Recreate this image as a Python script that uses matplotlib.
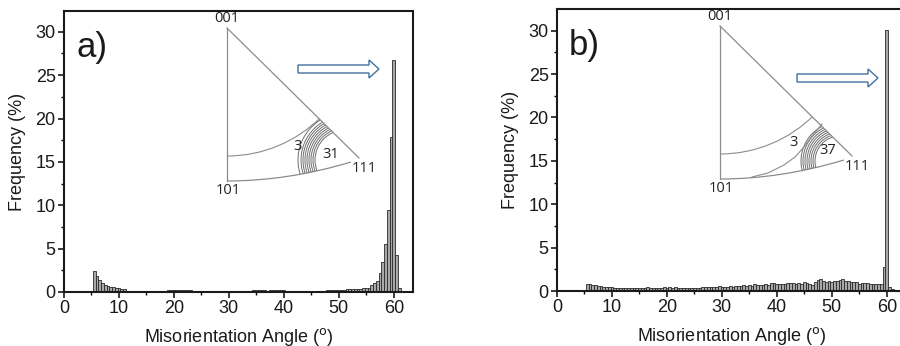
import numpy as np
import matplotlib.pyplot as plt
from matplotlib.patches import Circle, FancyArrow, PathPatch
from matplotlib.path import Path

plt.rcParams['font.family'] = ['Liberation Sans', 'DejaVu Sans']

# bin centres (0.5 deg bins)
angles_a = np.arange(5.5, 61.75, 0.5)
angles_b = np.arange(5.5, 62.25, 0.5)

# a) frequency (%)
freq_a = [2.4, 1.8, 1.35, 1.0, 0.85, 0.7, 0.6, 0.55, 0.5, 0.45,
          0.4, 0.3, 0.15, 0.1, 0.08, 0.06, 0.05, 0.05, 0.05, 0.05,
          0.05, 0.08, 0.1, 0.1, 0.12, 0.15, 0.12, 0.18, 0.25, 0.2,
          0.18, 0.2, 0.22, 0.2, 0.25, 0.18, 0.15, 0.12, 0.15, 0.12,
          0.1, 0.12, 0.1, 0.12, 0.1, 0.1, 0.1, 0.05, 0.03, 0.03,
          0.03, 0.05, 0.05, 0.05, 0.08, 0.1, 0.12, 0.15, 0.18, 0.2,
          0.18, 0.2, 0.18, 0.15, 0.18, 0.2, 0.18, 0.2, 0.2, 0.18,
          0.15, 0.15, 0.15, 0.12, 0.12, 0.15, 0.12, 0.12, 0.15, 0.12,
          0.1, 0.1, 0.12, 0.12, 0.15, 0.2, 0.22, 0.25, 0.25, 0.25,
          0.22, 0.25, 0.3, 0.3, 0.35, 0.35, 0.4, 0.4, 0.45, 0.5,
          0.5, 0.75, 1.0, 1.3, 2.2, 3.5, 5.5, 9.5, 17.9, 26.8,
          4.3, 0.5, 0.1]

# b) frequency (%)
freq_b = [0.75, 0.75, 0.7, 0.65, 0.6, 0.6, 0.5, 0.45, 0.5, 0.45,
          0.4, 0.4, 0.35, 0.35, 0.3, 0.3, 0.3, 0.35, 0.35, 0.4,
          0.35, 0.3, 0.45, 0.4, 0.35, 0.3, 0.35, 0.4, 0.45, 0.4,
          0.45, 0.4, 0.45, 0.35, 0.4, 0.35, 0.4, 0.35, 0.4, 0.35,
          0.4, 0.35, 0.45, 0.5, 0.45, 0.45, 0.5, 0.5, 0.55, 0.5,
          0.45, 0.5, 0.55, 0.5, 0.55, 0.6, 0.6, 0.65, 0.6, 0.7,
          0.6, 0.75, 0.65, 0.7, 0.7, 0.75, 0.7, 0.95, 0.9, 0.8,
          0.8, 0.85, 0.8, 0.95, 0.9, 0.9, 0.85, 0.9, 0.85, 1.0,
          0.9, 0.8, 0.7, 1.0, 1.3, 1.35, 1.2, 1.05, 1.1, 1.05,
          1.1, 1.2, 1.3, 1.35, 1.2, 1.1, 1.0, 1.05, 1.0, 0.8,
          0.95, 0.9, 0.95, 0.75, 0.75, 0.8, 0.85, 0.85, 2.8, 30.1,
          0.5, 0.2, 0.1, 0.05]

fig = plt.figure(figsize=(9, 3.46), dpi=100)
ax_a = fig.add_axes([64/900, 54/346, 349/900, 281/346])
ax_b = fig.add_axes([557/900, 55/346, 349/900, 282/346])

for ax, x, y, lab, top in [(ax_a, angles_a, freq_a, 'a)', 32.4),
                           (ax_b, angles_b, freq_b, 'b)', 32.5)]:
    ax.bar(x, y, width=0.5, color='#a8a8a8', edgecolor='#2a2a2a', linewidth=0.6)
    ax.set_xlim(0, 63.5)
    ax.set_ylim(0, top)
    ax.set_xticks(range(0, 61, 10))
    ax.set_xticks(range(5, 61, 10), minor=True)
    ax.set_yticks(range(0, 31, 5))
    ax.set_yticks(np.arange(2.5, 32, 5), minor=True)
    ax.tick_params(which='major', direction='out', length=4, width=1.2, labelsize=13,
                   colors='#1a1a1a', pad=2)
    ax.tick_params(which='minor', direction='out', length=2.5, width=1.0)
    for s in ax.spines.values():
        s.set_linewidth(1.5)
        s.set_color('#1a1a1a')
    ax.set_xlabel('Misorientation Angle ($^{\\rm o}$)', fontsize=13, color='#1a1a1a', labelpad=6)
    ax.set_ylabel('Frequency (%)', fontsize=13, color='#1a1a1a', labelpad=7)
    ax.text(0.035, 0.93, lab, transform=ax.transAxes, fontsize=25, va='top', ha='left',
            color='#1a1a1a')

# overlay for the stereographic triangle insets (figure pixel coords)
ov = fig.add_axes([0, 0, 1, 1], zorder=5)
ov.set_xlim(0, 900)
ov.set_ylim(346, 0)
ov.axis('off')
ov.patch.set_alpha(0)

lc = '#8c8c8c'
insets = [
    dict(dx=0, dy=0, label='31', lpos=(331, 155), cc=(345, 160),
         radii=[47, 44, 42, 40, 38, 36, 34, 32, 30], arrow=(298, 69), p3=(297, 146)),
    dict(dx=493, dy=-2, label='37', lpos=(828, 151), cc=(840, 161),
         radii=[39, 37, 35, 33, 31, 29, 27, 25], arrow=(797, 78), p3=(794, 143)),
]
tc = '#222222'
fs = 10.5
for ins in insets:
    dx, dy = ins['dx'], ins['dy']
    p001 = (227 + dx, 28 + dy)
    p101 = (227 + dx, 181 + dy)
    p111 = (359 + dx, 158 + dy)
    pend = (351 + dx, 162 + dy)
    ctrl = (288 + dx, 181 + dy)
    # outline
    ov.plot([p001[0], p101[0]], [p001[1], p101[1]], color=lc, lw=0.9)
    ov.plot([p001[0], p111[0]], [p001[1], p111[1]], color=lc, lw=0.9)
    bottom = Path([p101, ctrl, pend], [Path.MOVETO, Path.CURVE3, Path.CURVE3])
    ov.add_patch(PathPatch(bottom, fill=False, ec=lc, lw=0.9))
    # clip region
    clip = Path([p001, (355 + dx, 154 + dy), pend, ctrl, p101, p001],
                [Path.MOVETO, Path.LINETO, Path.LINETO, Path.CURVE3, Path.CURVE3,
                 Path.CLOSEPOLY])
    clip_patch = PathPatch(clip, transform=ov.transData, fill=False, lw=0)
    ov.add_patch(clip_patch)
    # "3" contour, centred near 001
    c3 = Circle((227 + dx, 23 + dy), 133, fill=False, ec=lc, lw=0.8)
    ov.add_patch(c3)
    c3.set_clip_path(clip_patch)
    for r in ins['radii']:
        c = Circle(ins['cc'], r, fill=False, ec='#6e6e6e', lw=0.7)
        ov.add_patch(c)
        c.set_clip_path(clip_patch)
    if dx:
        ov.plot([752, 768, 784, 795, 804, 812, 822],
                [177, 173, 165, 157, 147, 136, 124], color=lc, lw=0.8)
    # labels
    ov.text(p001[0], p001[1] - 2, '001', fontsize=fs, ha='center', va='bottom',
            family='Open Sans', color=tc)
    ov.text(p101[0] + 1, p101[1] + 2, '101', fontsize=fs, ha='center', va='top',
            family='Open Sans', color=tc)
    ov.text(p111[0] - 7, p111[1] + 3, '111', fontsize=fs, ha='left', va='top',
            family='Open Sans', color=tc)
    ov.text(*ins['p3'], '3', fontsize=fs, ha='center', va='center',
            family='Open Sans', color=tc)
    ov.text(*ins['lpos'], ins['label'], fontsize=fs, ha='center', va='center',
            family='Open Sans', color=tc)
    # hollow arrow
    ax0, ay0 = ins['arrow']
    ov.add_patch(FancyArrow(ax0, ay0, 81, 0, width=8, head_width=18, head_length=10,
                            length_includes_head=True, fc='white', ec='#41719c', lw=1.0))

fig.savefig('out.png', dpi=100)
